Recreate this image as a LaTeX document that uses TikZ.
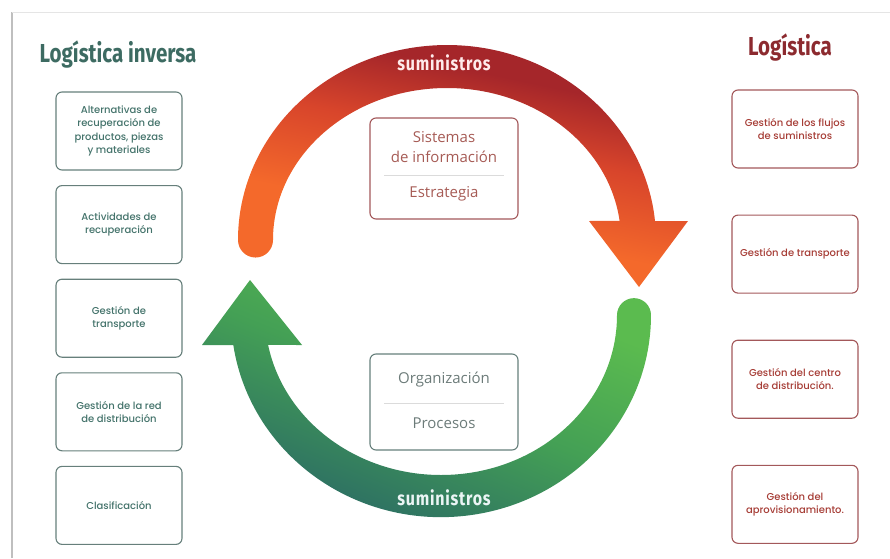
\documentclass[tikz,border=0pt]{standalone}
\usepackage{fontspec}
\setmainfont{Poppins}
\newfontfamily\cardfam{Poppins Medium}
\newfontfamily\condfont[FakeStretch=0.79]{Fira Sans}
\newfontfamily\flowfont[FakeStretch=0.82, LetterSpace=4]{Fira Sans}
\newfontfamily\midfont{Open Sans}
\usetikzlibrary{positioning}

\definecolor{invteal}{HTML}{3D6B62}
\definecolor{cardteal}{HTML}{44736B}
\definecolor{edgeteal}{HTML}{667F7B}
\definecolor{logred}{HTML}{8C2A2F}
\definecolor{cardred}{HTML}{A63D36}
\definecolor{edgered}{HTML}{A3585A}
\definecolor{infotext}{HTML}{A65B55}
\definecolor{orgtext}{HTML}{6C7B79}
\definecolor{flowdark}{HTML}{A5262A}
\definecolor{flowmid}{HTML}{D8452B}
\definecolor{floworange}{HTML}{F4692B}
\definecolor{leafgreen}{HTML}{5BBB4F}
\definecolor{leafmid}{HTML}{44A055}
\definecolor{deepteal}{HTML}{2A6965}

\pgfdeclareverticalshading{redflow}{100bp}{color(0bp)=(floworange); color(39bp)=(floworange);
  color(54bp)=(flowmid); color(66bp)=(flowdark); color(100bp)=(flowdark)}
\pgfdeclareverticalshading{greenflow}{100bp}{color(0bp)=(deepteal); color(27bp)=(deepteal);
  color(52bp)=(leafmid); color(72bp)=(leafgreen); color(100bp)=(leafgreen)}

\newcommand{\cardfont}{\cardfam\fontsize{10}{13.3}\selectfont}

\tikzset{
  title/.style={font=\condfont\bfseries\fontsize{26}{28}\selectfont},
  flowlabel/.style={font=\flowfont\bfseries\fontsize{19.5}{21}\selectfont},
  card/.style={rounded corners=6pt, line width=1.1pt, minimum width=126pt,
    minimum height=78pt, align=center, font=\cardfont},
  leftbox/.style={card, draw=edgeteal, text=cardteal},
  rightbox/.style={card, draw=edgered, text=cardred},
  midbox/.style={rounded corners=6pt, line width=1.1pt, minimum width=148pt},
  midtext/.style={align=center, font=\midfont\fontsize{15}{20}\selectfont},
  sepline/.style={draw=black!14, line width=0.8pt}
}

\begin{document}
\begin{tikzpicture}[x=1pt,y=1pt,node distance=14.5pt]
\useasboundingbox (0,0) rectangle (890,558);
% card edges
\draw[black!25, line width=2.5pt] (12,0) -- (12,546);
\draw[black!10, line width=0.8pt] (12,546) -- (890,546);

% headings
\node[title, text=invteal] (invtitle) at (118,503) {Logística inversa};
\node[title, text=logred] (logtitle) at (790,510) {Logística};

% reverse logistics column
\node[leftbox] (alt) at (119,427) {Alternativas de\\recuperación de\\productos, piezas\\y materiales};
\node[leftbox, below=of alt] (act) {Actividades de\\recuperación};
\node[leftbox, below=of act] (ltrans) {Gestión de\\transporte};
\node[leftbox, below=of ltrans] (red) {Gestión de la red\\de distribución};
\node[leftbox, below=of red] (clas) {Clasificación};

% logistics column
\node[rightbox] (flujos) at (795,429) {Gestión de los flujos\\de suministros};
\node[rightbox, below=46pt of flujos] (rtrans) {Gestión de transporte};
\node[rightbox, below=46pt of rtrans] (centro) {Gestión del centro\\de distribución.};
\node[rightbox, below=46pt of centro] (aprov) {Gestión del\\aprovisionamiento.};

% upper flow arrow
\shade[shading=redflow, shading angle=-12]
  (273,318) arc[start angle=180, end angle=7.2, x radius=174, y radius=152]
  -- (589,337) -- (639,271) -- (688,337) -- (655,337)
  arc[start angle=5.6, end angle=180, x radius=209, y radius=195]
  arc[start angle=180, end angle=360, radius=17.5] -- cycle;
% lower flow arrow
\shade[shading=greenflow, shading angle=-22]
  (617,243) arc[start angle=360, end angle=190.8, x radius=176, y radius=160]
  -- (302,213) -- (250,278) -- (202,213) -- (233.3,213)
  arc[start angle=188.5, end angle=360, x radius=210, y radius=202]
  arc[start angle=0, end angle=180, radius=17] -- cycle;

\node[flowlabel, text=red!8] (suptop) at (444,495) {suministros};
\node[flowlabel, text=teal!8] (supbot) at (444,60) {suministros};

% centre boxes
\node[midbox, draw=edgered, minimum height=101pt] (info) at (444,389.5) {};
\node[midtext, text=infotext] (sistemas) at (444,411) {Sistemas\\de información};
\node[midtext, text=infotext] (estrategia) at (444,364) {Estrategia};
\draw[sepline] ([xshift=15pt,yshift=-6.5pt]info.west) -- ([xshift=-15pt,yshift=-6.5pt]info.east);

\node[midbox, draw=edgeteal, minimum height=96pt] (org) at (444,156) {};
\node[midtext, text=orgtext] (organiz) at (444,178) {Organización};
\node[midtext, text=orgtext] (procesos) at (444,135) {Procesos};
\draw[sepline] ([xshift=15pt,yshift=-1pt]org.west) -- ([xshift=-15pt,yshift=-1pt]org.east);
\end{tikzpicture}
\end{document}
